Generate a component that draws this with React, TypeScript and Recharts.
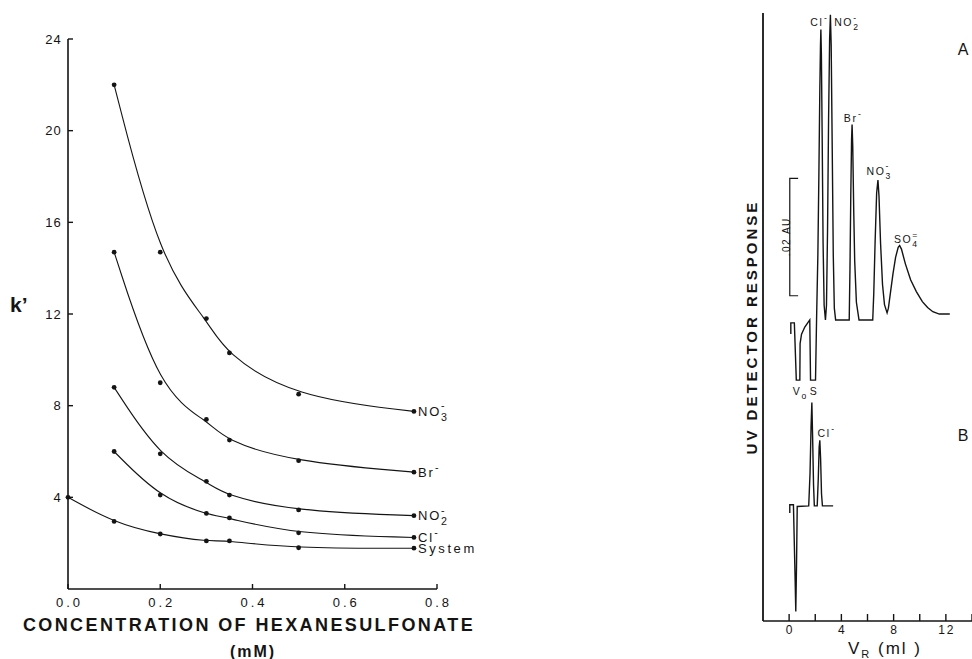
import React from 'react';
import { LineChart, Line, XAxis, YAxis, ReferenceDot } from 'recharts';

// ---------- Left panel: k' vs concentration of hexanesulfonate ----------
const concentration = [0.0, 0.1, 0.2, 0.3, 0.35, 0.5, 0.75];
const kNO3 = [null, 22.0, 14.7, 11.8, 10.3, 8.5, 7.75];
const kBr = [null, 14.7, 9.0, 7.4, 6.5, 5.6, 5.1];
const kNO2 = [null, 8.8, 5.9, 4.7, 4.1, 3.45, 3.2];
const kCl = [null, 6.0, 4.1, 3.3, 3.1, 2.45, 2.25];
const kSystem = [4.0, 2.95, 2.4, 2.1, 2.1, 1.8, 1.78];
const leftXTicks = [0, 0.2, 0.4, 0.6, 0.8];
const leftYTicks = [4, 8, 12, 16, 20, 24];

// ---------- Right panel: chromatograms (V_R in ml, response in mAU) ----------
const traceAV = [0.13, 0.13, 0.4, 0.55, 0.82, 0.84, 0.95, 1.2, 1.58, 1.64, 2.02, 2.1, 2.2, 2.28, 2.35, 2.4, 2.43, 2.47, 2.53, 2.6, 2.68, 2.78, 2.86, 2.94, 3.02, 3.1, 3.16, 3.22, 3.3, 3.38, 3.46, 3.56, 4.6, 4.66, 4.72, 4.78, 4.82, 4.87, 4.95, 5.02, 5.15, 5.35, 6.4, 6.48, 6.58, 6.7, 6.8, 6.88, 7.0, 7.15, 7.3, 7.5, 7.6, 7.75, 7.95, 8.15, 8.35, 8.46, 8.6, 8.9, 9.3, 9.74, 10.2, 10.6, 11.0, 11.5, 12.3];
const traceAAU = [48.6, 50.5, 50.5, 40.8, 40.8, 47.0, 48.6, 49.8, 51.0, 40.8, 40.8, 51.0, 62.0, 76.0, 90.0, 97.5, 100.2, 96.0, 82.0, 64.0, 53.5, 51.0, 53.5, 66.0, 85.0, 98.5, 102.7, 97.5, 80.0, 62.0, 53.0, 51.0, 51.0, 60.0, 72.0, 81.5, 84.1, 80.5, 69.0, 61.0, 54.0, 51.0, 51.0, 55.5, 64.0, 72.5, 74.7, 72.0, 64.0, 57.0, 53.6, 52.2, 53.0, 55.5, 58.8, 61.6, 63.3, 63.6, 63.0, 60.5, 57.8, 55.8, 54.1, 53.1, 52.4, 52.0, 52.0];
const traceBV = [0.05, 0.05, 0.33, 0.45, 0.51, 0.57, 0.62, 1.5, 1.6, 1.68, 1.74, 1.8, 1.87, 1.93, 2.15, 2.23, 2.3, 2.35, 2.41, 2.48, 2.55, 3.37];
const traceBAU = [18.3, 19.7, 19.7, 8.0, 1.6, 10.0, 19.4, 19.5, 25.0, 33.0, 37.0, 31.0, 23.0, 19.5, 19.5, 24.0, 29.5, 30.6, 27.5, 21.5, 19.5, 19.5];
const scaleBarV = [0.69, 0.05, 0.05, 0.69];
const scaleBarAU = [75.0, 75.0, 55.1, 55.1];
const rightXTicks = [0, 2, 4, 6, 8, 10, 12, 14];
const rightXLabels = [0, 4, 8, 12];

const FONT = 'Liberation Sans, Arial, Helvetica, sans-serif';
const INK = '#141414';

const leftRows = concentration.map((c, i) => ({
  c,
  no3: kNO3[i],
  br: kBr[i],
  no2: kNO2[i],
  cl: kCl[i],
  sys: kSystem[i],
}));
const toRows = (vs: number[], aus: number[]) => vs.map((v, i) => ({ v, au: aus[i] }));
const rowsA = toRows(traceAV, traceAAU);
const rowsB = toRows(traceBV, traceBAU);
const rowsBar = toRows(scaleBarV, scaleBarAU);

// Smoothed fitting curve: B-spline on pre-compensated control points,
// so the drawn curve runs close to (but not exactly through) the measured points.
const makeFitCurve = (k: number) => (context: any) => {
  let pts: number[][] = [];
  return {
    areaStart() {},
    areaEnd() {},
    lineStart() { pts = []; },
    point(x: number, y: number) { pts.push([+x, +y]); },
    lineEnd() {
      const n = pts.length;
      if (!n) return;
      const c = pts.map((p, i) => {
        if (i === 0 || i === n - 1) return p;
        const a = pts[i - 1];
        const b = pts[i + 1];
        return [p[0] + (k * (2 * p[0] - a[0] - b[0])) / 6, p[1] + (k * (2 * p[1] - a[1] - b[1])) / 6];
      });
      context.moveTo(c[0][0], c[0][1]);
      if (n === 1) return;
      if (n === 2) { context.lineTo(c[1][0], c[1][1]); return; }
      context.lineTo((5 * c[0][0] + c[1][0]) / 6, (5 * c[0][1] + c[1][1]) / 6);
      const seg = (p0: number[], p1: number[], p2: number[]) => {
        context.bezierCurveTo(
          (2 * p0[0] + p1[0]) / 3, (2 * p0[1] + p1[1]) / 3,
          (p0[0] + 2 * p1[0]) / 3, (p0[1] + 2 * p1[1]) / 3,
          (p0[0] + 4 * p1[0] + p2[0]) / 6, (p0[1] + 4 * p1[1] + p2[1]) / 6,
        );
      };
      for (let i = 2; i < n; i++) seg(c[i - 2], c[i - 1], c[i]);
      seg(c[n - 2], c[n - 1], c[n - 1]);
      context.lineTo(c[n - 1][0], c[n - 1][1]);
    },
  };
};
const fitCurve = makeFitCurve(0.7);

type ChemProps = {
  x: number; y: number; base: string; sub?: string; sup?: string;
  size?: number; ls?: number; weight?: string | number;
};
function Chem({ x, y, base, sub, sup, size = 13, ls = 1.5, weight = 'normal' }: ChemProps) {
  const s = size * 0.82;
  return (
    <text x={x} y={y} fontSize={size} letterSpacing={ls} fill={INK} fontFamily={FONT} fontWeight={weight}>
      {base}
      {sub ? <tspan dy={size * 0.38} fontSize={s}>{sub}</tspan> : null}
      {sup ? (
        <tspan dx={sub ? -(s * 0.556 + ls) : 0.5} dy={sub ? -size * 0.9 : -size * 0.45} fontSize={s}>{sup}</tspan>
      ) : null}
    </text>
  );
}

const leftSeries = [
  { key: 'no3', base: 'NO', sub: '3', sup: '-' },
  { key: 'br', base: 'Br', sub: '', sup: '-' },
  { key: 'no2', base: 'NO', sub: '2', sup: '-' },
  { key: 'cl', base: 'Cl', sub: '', sup: '-' },
  { key: 'sys', base: 'System', sub: '', sup: '' },
];
const lastIdx = concentration.length - 1;

const makeDot = (s: typeof leftSeries[number]) => (props: any) => {
  const { cx, cy, index, value } = props;
  if (cx == null || cy == null || value == null || Number.isNaN(cy)) return <g key={`${s.key}-${index}`} />;
  return (
    <g key={`${s.key}-${index}`}>
      <circle cx={cx} cy={cy} r={2.4} fill={INK} />
      {index === lastIdx ? (
        <Chem x={cx + 4} y={cy + 4.6} base={s.base} sub={s.sub || undefined} sup={s.sup || undefined} size={13} ls={s.key === 'sys' ? 2.6 : 1.8} />
      ) : null}
    </g>
  );
};

const LeftYTick = (props: any) => {
  const { x, y, payload } = props;
  return (
    <g>
      <line x1={x} x2={x + 5} y1={y} y2={y} stroke={INK} strokeWidth={1.4} />
      <text x={x - 6} y={y} dy="0.36em" textAnchor="end" fontSize={13} letterSpacing={1.2} fill={INK} fontFamily={FONT}>
        {payload.value}
      </text>
    </g>
  );
};
const LeftXTick = (props: any) => {
  const { x, y, payload } = props;
  return (
    <g>
      <line x1={x} x2={x} y1={y} y2={y - 5} stroke={INK} strokeWidth={1.4} />
      <text x={x + 1.5} y={y + 13} dy="0.36em" textAnchor="middle" fontSize={13} letterSpacing={3} fill={INK} fontFamily={FONT}>
        {Number(payload.value).toFixed(1)}
      </text>
    </g>
  );
};
const RightXTick = (props: any) => {
  const { x, y, payload } = props;
  const show = rightXLabels.includes(payload.value);
  return (
    <g>
      <line x1={x} x2={x} y1={y} y2={y - 7} stroke={INK} strokeWidth={1.4} />
      {show ? (
        <text x={x + 1} y={y + 9} dy="0.36em" textAnchor="middle" fontSize={12} letterSpacing={2} fill={INK} fontFamily={FONT}>
          {payload.value}
        </text>
      ) : null}
    </g>
  );
};

const annotations = [
  { v: 1.62, au: 100.8, base: 'Cl', sup: '-' },
  { v: 3.45, au: 100.8, base: 'NO', sub: '2', sup: '-' },
  { v: 4.19, au: 84.5, base: 'Br', sup: '-' },
  { v: 5.93, au: 75.6, base: 'NO', sub: '3', sup: '-' },
  { v: 8.02, au: 64.0, base: 'SO', sub: '4', sup: '=' },
  { v: 0.28, au: 38.3, base: 'V', sub: 'o' },
  { v: 1.58, au: 38.3, base: 'S' },
  { v: 2.18, au: 31.2, base: 'Cl', sup: '-' },
];
const panelLetters = [
  { v: 12.9, au: 95.9, text: 'A' },
  { v: 12.9, au: 30.5, text: 'B' },
];

export default function App() {
  return (
    <div style={{ position: 'absolute', left: 0, top: 0, width: 972, height: 659, background: '#fff', overflow: 'hidden' }}>
      <div style={{ position: 'absolute', left: 0, top: 0 }}>
        <LineChart width={490} height={659} data={leftRows} margin={{ top: 39, right: 53, bottom: 69, left: 67 }}>
          <XAxis
            dataKey="c" type="number" domain={[0, 0.8]} ticks={leftXTicks} height={1}
            axisLine={{ stroke: INK, strokeWidth: 1.6 }} tickLine={false} tickSize={0} tickMargin={0}
            tick={<LeftXTick />} interval={0}
          />
          <YAxis
            type="number" domain={[0, 24]} ticks={leftYTicks} width={1}
            axisLine={{ stroke: INK, strokeWidth: 1.6 }} tickLine={false} tickSize={0} tickMargin={0}
            tick={<LeftYTick />} interval={0}
          />
          {leftSeries.map((s) => (
            <Line
              key={s.key} dataKey={s.key} type={fitCurve as any} stroke={INK} strokeWidth={1.1}
              dot={makeDot(s)} activeDot={false} isAnimationActive={false}
            />
          ))}
        </LineChart>
      </div>

      <div style={{ position: 'absolute', left: 740, top: 0 }}>
        <LineChart width={232} height={659} margin={{ top: 13, right: 0, bottom: 37, left: 22 }}>
          <XAxis
            dataKey="v" type="number" domain={[-2, 14]} ticks={rightXTicks} height={1}
            axisLine={{ stroke: INK, strokeWidth: 1.6 }} tickLine={false} tickSize={0} tickMargin={0}
            tick={<RightXTick />} interval={0} allowDataOverflow
          />
          <YAxis
            type="number" domain={[0, 103]} width={1} tick={false} tickLine={false}
            axisLine={{ stroke: INK, strokeWidth: 1.8 }} allowDataOverflow
          />
          <Line data={rowsA} dataKey="au" type="linear" stroke={INK} strokeWidth={1.4} dot={false} activeDot={false} isAnimationActive={false} />
          <Line data={rowsB} dataKey="au" type="linear" stroke={INK} strokeWidth={1.4} dot={false} activeDot={false} isAnimationActive={false} />
          <Line data={rowsBar} dataKey="au" type="linear" stroke={INK} strokeWidth={1.2} dot={false} activeDot={false} isAnimationActive={false} />
          {annotations.map((a, i) => (
            <ReferenceDot
              key={`ann-${i}`} x={a.v} y={a.au} r={0} ifOverflow="visible"
              shape={(p: any) => (
                <Chem x={p.cx} y={p.cy} base={a.base} sub={a.sub} sup={a.sup} size={10.5} ls={1.6} />
              )}
            />
          ))}
          {panelLetters.map((a, i) => (
            <ReferenceDot
              key={`pl-${i}`} x={a.v} y={a.au} r={0} ifOverflow="visible"
              shape={(p: any) => (
                <text x={p.cx} y={p.cy} fontSize={16} fill={INK} fontFamily={FONT}>{a.text}</text>
              )}
            />
          ))}
          <ReferenceDot
            x={-0.2} y={65.1} r={0} ifOverflow="visible"
            shape={(p: any) => (
              <text x={p.cx} y={p.cy} transform={`rotate(-90 ${p.cx} ${p.cy})`} dy="0.36em" textAnchor="middle"
                fontSize={10} letterSpacing={1.5} fill={INK} fontFamily={FONT}>.02 AU</text>
            )}
          />
        </LineChart>
      </div>

      <svg width={972} height={659} style={{ position: 'absolute', left: 0, top: 0, pointerEvents: 'none' }}>
        <text x={10} y={312} fontSize={21} fontWeight="bold" fill={INK} fontFamily={FONT}>k’</text>
        <text x={249} y={631} textAnchor="middle" fontSize={18} fontWeight="bold" letterSpacing={2.4} fill={INK} fontFamily={FONT}>
          CONCENTRATION OF HEXANESULFONATE
        </text>
        <text x={253} y={657} textAnchor="middle" fontSize={16} fontWeight="bold" letterSpacing={2} fill={INK} fontFamily={FONT}>
          (mM)
        </text>
        <text x={752} y={327} transform="rotate(-90 752 327)" dy="0.36em" textAnchor="middle" fontSize={15} fontWeight="bold" letterSpacing={3}
          fill={INK} fontFamily={FONT}>
          UV DETECTOR RESPONSE
        </text>
        <text x={848} y={654} fontSize={17} letterSpacing={2} fill={INK} fontFamily={FONT}>
          V<tspan dy={4} fontSize={11}>R</tspan><tspan dy={-4}> (ml )</tspan>
        </text>
      </svg>
    </div>
  );
}
